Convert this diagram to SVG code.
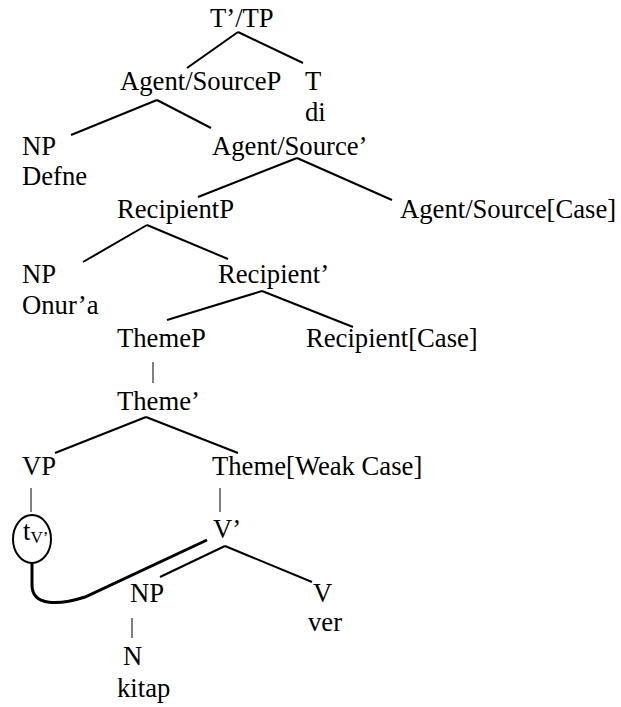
<svg xmlns="http://www.w3.org/2000/svg" width="621" height="707" viewBox="0 0 621 707">
<style>
text{font-family:"Liberation Serif","Times New Roman",serif;font-size:26.67px;fill:#000}
.sub{font-size:17px}
.br{stroke:#000;stroke-width:2;fill:none}
.bar{stroke:#000;stroke-width:1;fill:none}
.mv{stroke:#000;stroke-width:3;fill:none}
</style>
<rect width="621" height="707" fill="#fff"/>
<g id="connectors">
<line class="br" x1="238" y1="32" x2="187" y2="68"/>
<line class="br" x1="238" y1="32" x2="303" y2="63"/>
<line class="br" x1="157" y1="100" x2="71" y2="135"/>
<line class="br" x1="157" y1="100" x2="211" y2="128"/>
<line class="br" x1="297" y1="158" x2="198" y2="197"/>
<line class="br" x1="297" y1="158" x2="392" y2="200"/>
<line class="br" x1="147" y1="225" x2="83" y2="262"/>
<line class="br" x1="147" y1="225" x2="228" y2="259"/>
<line class="br" x1="262" y1="291" x2="167" y2="320"/>
<line class="br" x1="262" y1="291" x2="353" y2="327"/>
<line class="bar" x1="153" y1="362" x2="153" y2="383"/>
<line class="br" x1="146" y1="417" x2="55" y2="453"/>
<line class="br" x1="146" y1="417" x2="238" y2="453"/>
<line class="bar" x1="31" y1="488" x2="31" y2="512"/>
<line class="bar" x1="220" y1="488" x2="220" y2="512"/>
<line class="br" x1="225" y1="546" x2="160" y2="577"/>
<line class="br" x1="225" y1="546" x2="312" y2="582"/>
<line class="bar" x1="132" y1="618" x2="132" y2="638"/>
<path class="mv" d="M32,563 L32,585 C32,607 60,605 85,597 L207,540"/>
</g>
<g id="n-ttp"><text x="210" y="27">T’/TP</text></g>
<g id="n-agentsourcep"><text x="120" y="90">Agent/SourceP</text></g>
<g id="n-t"><text x="305" y="90">T</text><text x="305" y="121">di</text></g>
<g id="n-np1"><text x="22" y="155">NP</text><text x="22" y="185">Defne</text></g>
<g id="n-agentsource-bar"><text x="212" y="155">Agent/Source’</text></g>
<g id="n-recipientp"><text x="117" y="218">RecipientP</text></g>
<g id="n-agentsource-case"><text x="400" y="218">Agent/Source[Case]</text></g>
<g id="n-np2"><text x="22" y="283">NP</text><text x="22" y="314">Onur’a</text></g>
<g id="n-recipient-bar"><text x="218" y="283">Recipient’</text></g>
<g id="n-themep"><text x="117" y="347">ThemeP</text></g>
<g id="n-recipient-case"><text x="306" y="347">Recipient[Case]</text></g>
<g id="n-theme-bar"><text x="117" y="410">Theme’</text></g>
<g id="n-vp"><text x="22" y="475">VP</text></g>
<g id="n-theme-case"><text x="212" y="475">Theme[Weak Case]</text></g>
<g id="n-trace"><ellipse cx="32" cy="539" rx="19" ry="24" stroke="#000" stroke-width="2" fill="none"/><text x="23" y="540">t<tspan class="sub" dy="3">V’</tspan></text></g>
<g id="n-v-bar"><text x="213" y="538">V’</text></g>
<g id="n-np3"><text x="130" y="602">NP</text></g>
<g id="n-v"><text x="313" y="602">V</text><text x="308" y="631">ver</text></g>
<g id="n-n"><text x="123" y="665">N</text><text x="117" y="697">kitap</text></g>
</svg>
